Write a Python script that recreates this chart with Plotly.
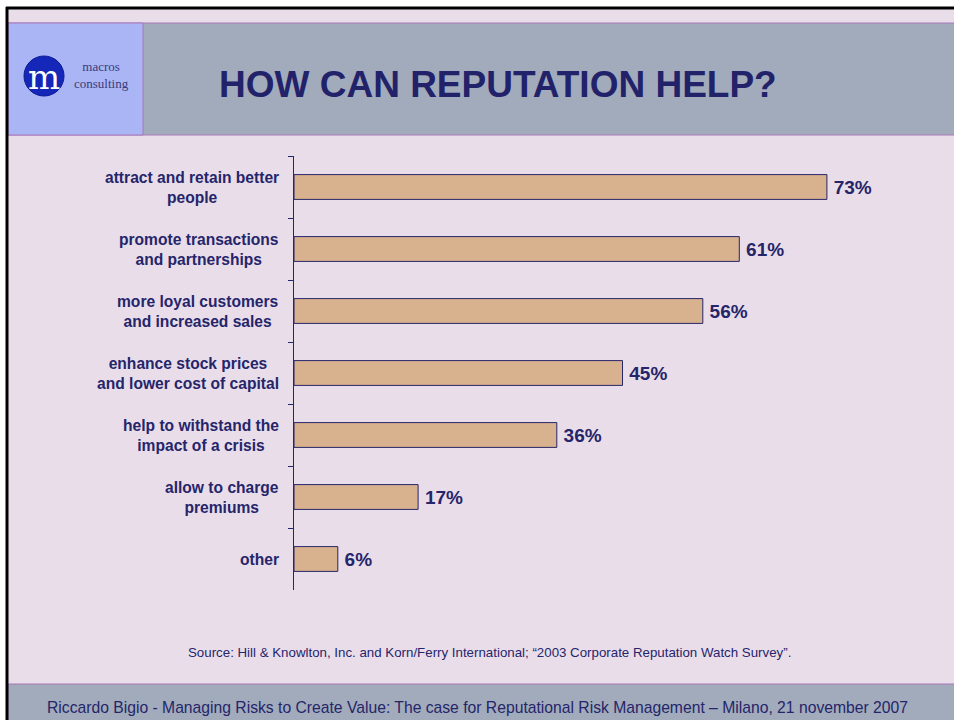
import plotly.graph_objects as go

categories = [
    "attract and retain better<br>people",
    "promote transactions<br>and partnerships",
    "more loyal customers<br>and increased sales",
    "enhance stock prices<br>and lower cost of capital",
    "help to withstand the<br>impact of a crisis",
    "allow to charge<br>premiums",
    "other",
]
values = [73, 61, 56, 45, 36, 17, 6]

title_text = "HOW CAN REPUTATION HELP?"
source_text = "Source: Hill &amp; Knowlton, Inc. and Korn/Ferry International; \u201c2003 Corporate Reputation Watch Survey\u201d."
footer_text = "Riccardo Bigio - Managing Risks to Create Value: The case for Reputational Risk Management \u2013 Milano, 21 november 2007"

W, H = 954, 720
NAVY = "#25256A"
PINK = "#EADDEA"
GREY = "#A1ABBB"
LOGO_BG = "#AAB5F5"
BAR = "#D8B18E"
FONT = "Liberation Sans, Arial, sans-serif"


def px(x):
    return x / W


def py(y):
    return 1 - y / H


fig = go.Figure()
fig.add_trace(go.Bar(
    x=values,
    y=categories,
    orientation="h",
    width=0.4,
    marker=dict(color=BAR, line=dict(color=NAVY, width=1)),
    texttemplate="<b>\u2009%{x}%</b>",
    textposition="outside",
    textfont=dict(family=FONT, size=19, color=NAVY),
    cliponaxis=False,
    hoverinfo="skip",
))

shapes = []
shapes.append(dict(type="rect", xref="paper", yref="paper", x0=px(7), x1=px(W + 5), y0=py(H + 5), y1=py(8),
                   fillcolor=PINK, line=dict(width=0), layer="below"))
shapes.append(dict(type="rect", xref="paper", yref="paper", x0=px(8), x1=px(W + 5), y0=py(135), y1=py(23),
                   fillcolor=GREY, line=dict(color="#A878B8", width=1), layer="below"))
shapes.append(dict(type="rect", xref="paper", yref="paper", x0=px(8), x1=px(143), y0=py(135), y1=py(23),
                   fillcolor=LOGO_BG, line=dict(color="#A878B8", width=1), layer="below"))
shapes.append(dict(type="rect", xref="paper", yref="paper", x0=px(8), x1=px(W + 5), y0=py(H + 5), y1=py(684),
                   fillcolor=GREY, line=dict(color="#A878B8", width=1), layer="below"))
shapes.append(dict(type="line", xref="paper", yref="paper", x0=px(6), x1=px(W + 5), y0=py(8), y1=py(8),
                   line=dict(color="black", width=3)))
shapes.append(dict(type="line", xref="paper", yref="paper", x0=px(7), x1=px(7), y0=py(7), y1=py(H + 5),
                   line=dict(color="black", width=3)))
shapes.append(dict(type="circle", xref="paper", yref="paper", x0=px(24), x1=px(64), y0=py(96), y1=py(56),
                   fillcolor="#1427B8", line=dict(color="#0A1A90", width=1)))

annotations = []
for c in categories:
    annotations.append(dict(x=px(281), xref="paper", xanchor="right", y=c, yref="y", yanchor="middle",
                            text="<b>" + c + "</b>", showarrow=False, align="center",
                            font=dict(family=FONT, size=15.6, color=NAVY)))

annotations += [
    dict(x=px(498), y=py(84), xref="paper", yref="paper", text="<b>" + title_text + "</b>", showarrow=False,
         xanchor="center", yanchor="middle", font=dict(family=FONT, size=37, color="#22226A")),
    dict(x=px(490), y=py(652), xref="paper", yref="paper", text=source_text, showarrow=False,
         xanchor="center", yanchor="middle", font=dict(family=FONT, size=13.3, color=NAVY)),
    dict(x=px(477), y=py(707), xref="paper", yref="paper", text=footer_text, showarrow=False,
         xanchor="center", yanchor="middle", font=dict(family=FONT, size=15.7, color=NAVY)),
    dict(x=px(44), y=py(77), xref="paper", yref="paper", text="m", showarrow=False,
         xanchor="center", yanchor="middle", font=dict(family="DejaVu Serif, serif", size=34, color="white")),
    dict(x=px(101), y=py(75), xref="paper", yref="paper", text="macros<br>consulting", showarrow=False,
         xanchor="center", yanchor="middle", align="center",
         font=dict(family="Liberation Serif, serif", size=13, color="#3A3A78")),
]

fig.update_layout(
    width=W, height=H,
    margin=dict(l=0, r=0, t=0, b=0),
    paper_bgcolor="white",
    plot_bgcolor="rgba(0,0,0,0)",
    showlegend=False,
    bargap=0.6,
    shapes=shapes,
    annotations=annotations,
    xaxis=dict(domain=[px(294), px(294 + 7.3 * 80)], range=[0, 80], visible=False, fixedrange=True),
    yaxis=dict(domain=[py(590), py(156)], type="category", categoryorder="array", categoryarray=categories,
               autorange="reversed", showticklabels=False, ticks="outside", tickson="boundaries",
               ticklen=5, tickcolor=NAVY, showline=True, linecolor=NAVY, linewidth=1, showgrid=False,
               zeroline=False, fixedrange=True),
)

fig.write_html("out.html")
